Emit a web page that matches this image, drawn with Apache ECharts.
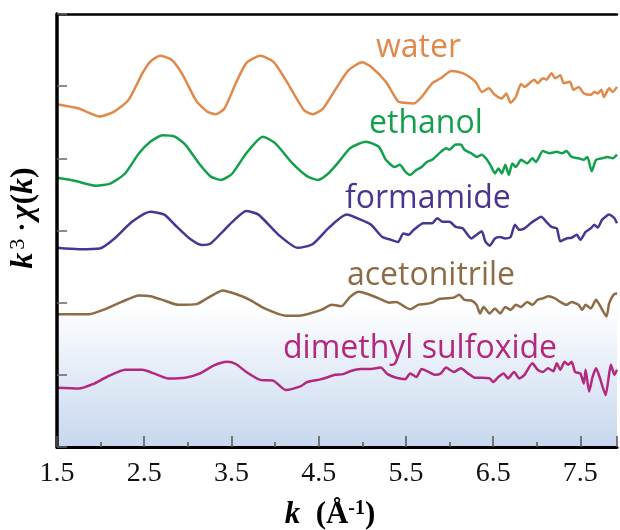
<!DOCTYPE html>
<html>
<head>
<meta charset="utf-8">
<script src="https://cdn.jsdelivr.net/npm/echarts@6/dist/echarts.min.js"></script>
<style>
  html, body { margin: 0; padding: 0; background: #fff; }
  #chart { width: 620px; height: 530px; }
</style>
</head>
<body>
<div id="chart"></div>
<script>
// x ticks (k, Å^-1)
const xTicks = [1.5, 2.5, 3.5, 4.5, 5.5, 6.5, 7.5];
const seriesNames = ['water', 'ethanol', 'formamide', 'acetonitrile', 'dimethyl sulfoxide'];

// k^3·chi(k) curves, vertically stacked (value in plot units, [k, y])
const water = [[1.5,4.75],[1.75,4.69],[1.99,4.58],[2.16,4.65],[2.32,4.81],[2.48,5.18],[2.57,5.34],[2.68,5.42],[2.81,5.37],[2.93,5.18],[3.10,4.79],[3.22,4.65],[3.32,4.61],[3.42,4.69],[3.55,5.04],[3.67,5.32],[3.83,5.42],[3.98,5.34],[4.12,5.09],[4.33,4.67],[4.43,4.61],[4.55,4.69],[4.69,4.95],[4.84,5.22],[5.00,5.33],[5.10,5.27],[5.27,5.06],[5.41,4.79],[5.49,4.77],[5.59,4.76],[5.68,4.85],[5.80,5.04],[5.90,5.11],[6.02,5.21],[6.15,5.18],[6.25,5.11],[6.31,5.04],[6.37,4.92],[6.45,4.97],[6.52,4.88],[6.60,4.83],[6.65,4.90],[6.70,4.77],[6.76,4.85],[6.82,5.03],[6.86,4.99],[6.97,5.09],[7.01,5.04],[7.07,5.11],[7.11,5.09],[7.17,5.18],[7.21,5.11],[7.27,5.15],[7.31,5.04],[7.38,5.06],[7.42,4.95],[7.48,4.99],[7.54,4.90],[7.62,4.88],[7.66,4.92],[7.70,4.90],[7.74,4.95],[7.77,4.85],[7.83,4.97],[7.87,4.92],[7.92,4.99]];

const ethanol = [[1.5,3.73],[1.70,3.69],[1.95,3.62],[2.11,3.65],[2.28,3.79],[2.44,4.07],[2.57,4.23],[2.71,4.32],[2.85,4.30],[2.97,4.19],[3.14,3.91],[3.26,3.75],[3.38,3.70],[3.51,3.79],[3.67,4.07],[3.86,4.30],[4.00,4.21],[4.20,3.93],[4.37,3.75],[4.49,3.70],[4.61,3.79],[4.73,3.95],[4.86,4.14],[5.04,4.23],[5.19,4.16],[5.27,3.98],[5.37,3.88],[5.43,3.91],[5.49,3.82],[5.55,3.77],[5.62,3.84],[5.68,3.88],[5.74,3.95],[5.80,3.98],[5.90,4.09],[5.96,4.14],[6.00,4.12],[6.07,4.19],[6.13,4.19],[6.17,4.12],[6.25,4.07],[6.31,4.02],[6.37,4.05],[6.43,3.98],[6.48,3.88],[6.52,3.79],[6.56,3.86],[6.60,3.79],[6.64,3.91],[6.68,3.77],[6.72,3.93],[6.76,3.88],[6.82,3.98],[6.89,3.93],[6.95,4.00],[6.99,3.95],[7.07,4.10],[7.15,4.07],[7.23,4.09],[7.29,4.07],[7.34,4.10],[7.40,4.02],[7.48,4.00],[7.54,3.98],[7.58,4.02],[7.63,3.82],[7.68,3.98],[7.75,4.00],[7.81,4.02],[7.87,4.00],[7.92,4.05]];

const formamide = [[1.5,2.76],[1.75,2.74],[1.99,2.75],[2.16,2.89],[2.36,3.12],[2.57,3.26],[2.73,3.22],[2.85,3.08],[3.02,2.89],[3.16,2.80],[3.26,2.82],[3.42,3.01],[3.51,3.12],[3.67,3.27],[3.81,3.22],[4.04,2.94],[4.26,2.76],[4.43,2.81],[4.61,3.03],[4.82,3.22],[4.98,3.15],[5.10,3.08],[5.23,2.91],[5.33,2.87],[5.41,2.84],[5.47,2.96],[5.53,2.94],[5.59,3.01],[5.70,3.10],[5.80,3.10],[5.86,3.17],[5.92,3.12],[6.00,3.12],[6.07,3.05],[6.15,3.03],[6.25,2.89],[6.31,2.94],[6.37,2.99],[6.41,2.85],[6.46,2.79],[6.52,2.89],[6.58,2.91],[6.64,2.89],[6.70,2.91],[6.75,3.08],[6.80,3.01],[6.86,3.03],[6.93,3.10],[6.99,3.15],[7.05,3.19],[7.11,3.12],[7.17,3.05],[7.23,3.03],[7.27,2.85],[7.34,2.89],[7.40,2.90],[7.46,2.94],[7.50,2.87],[7.56,2.98],[7.62,3.03],[7.66,3.08],[7.70,3.04],[7.75,3.15],[7.83,3.22],[7.89,3.17],[7.92,3.10]];

const acetonitrile = [[1.5,1.84],[1.87,1.84],[2.03,1.90],[2.24,2.01],[2.44,2.10],[2.57,2.09],[2.73,2.03],[2.89,1.97],[3.10,1.98],[3.22,2.06],[3.40,2.17],[3.55,2.12],[3.71,2.04],[3.88,1.92],[4.12,1.82],[4.28,1.82],[4.53,1.90],[4.65,1.97],[4.76,1.95],[4.86,2.08],[4.96,2.15],[5.06,2.12],[5.19,2.06],[5.31,2.00],[5.39,2.01],[5.49,1.94],[5.55,1.91],[5.64,1.97],[5.72,1.98],[5.80,2.00],[5.88,2.05],[5.96,2.06],[6.05,2.07],[6.11,2.11],[6.17,2.04],[6.25,2.03],[6.31,1.97],[6.35,1.85],[6.39,1.94],[6.46,1.85],[6.52,1.92],[6.58,1.85],[6.64,1.94],[6.70,1.90],[6.76,1.97],[6.82,1.94],[6.89,2.01],[6.95,1.97],[7.01,2.04],[7.07,2.06],[7.13,2.09],[7.21,2.06],[7.27,2.01],[7.34,1.97],[7.40,2.01],[7.48,1.97],[7.52,1.90],[7.56,1.97],[7.62,1.92],[7.68,2.04],[7.72,1.97],[7.80,1.81],[7.83,1.99],[7.88,2.11],[7.92,2.13]];

const dmso = [[1.5,0.82],[1.75,0.81],[1.91,0.87],[2.07,0.97],[2.28,1.07],[2.48,1.07],[2.61,1.02],[2.77,0.95],[2.97,0.96],[3.14,1.02],[3.30,1.13],[3.45,1.18],[3.55,1.15],[3.67,1.04],[3.83,0.93],[3.98,0.92],[4.12,0.79],[4.29,0.84],[4.37,0.90],[4.53,0.94],[4.69,1.00],[4.78,1.01],[4.86,1.05],[4.98,1.08],[5.10,1.08],[5.21,1.10],[5.29,1.01],[5.39,0.96],[5.49,0.94],[5.55,1.02],[5.62,0.97],[5.68,1.08],[5.76,1.04],[5.84,1.00],[5.90,1.02],[5.96,1.10],[6.05,1.04],[6.13,1.09],[6.21,1.02],[6.29,0.96],[6.37,0.96],[6.46,0.95],[6.50,0.90],[6.56,0.97],[6.62,1.02],[6.67,0.95],[6.74,1.04],[6.80,0.95],[6.86,1.00],[6.95,1.16],[7.01,1.07],[7.07,1.04],[7.13,1.09],[7.19,1.05],[7.23,1.16],[7.27,1.07],[7.32,1.18],[7.36,1.14],[7.40,1.18],[7.44,1.04],[7.50,1.02],[7.54,0.88],[7.56,1.07],[7.60,0.77],[7.64,0.97],[7.68,1.09],[7.72,0.97],[7.79,0.72],[7.85,1.14],[7.89,1.00],[7.92,1.07]];

const allData = [water, ethanol, formamide, acetonitrile, dmso];
const colors = ['#e0894a', '#12a04c', '#4a3592', '#8c6b45', '#b3287e'];
const labelPos = [[376, 48], [369, 124], [345, 199], [347, 276], [283, 349]];

const X_MIN = 1.5, X_MAX = 7.92;
const chart = echarts.init(document.getElementById('chart'), null, { renderer: 'canvas' });

const series = allData.map((d, i) => ({
  name: seriesNames[i],
  type: 'line',
  data: d,
  showSymbol: false,
  smooth: 0.2,
  lineStyle: { color: colors[i], width: 2.5 },
  z: 3,
  animation: false
}));
series[4].markArea = {
  silent: true,
  z: 1,
  itemStyle: {
    color: { type: 'linear', x: 0, y: 0, x2: 0, y2: 1,
      colorStops: [{ offset: 0, color: '#ffffff' }, { offset: 1, color: '#c6d7ee' }] }
  },
  data: [[{ xAxis: X_MIN, yAxis: 1.95 }, { xAxis: X_MAX, yAxis: 0 }]]
};

const serif = 'Liberation Serif';
chart.setOption({
  animation: false,
  grid: { left: 57, right: 0, top: 14, bottom: 83 },
  xAxis: [{
    type: 'value', min: X_MIN, max: X_MAX, interval: 1, position: 'bottom', z: 10,
    axisLine: { lineStyle: { color: '#000', width: 3 } },
    axisTick: { inside: true, length: 11, lineStyle: { color: '#555', width: 1.5 } },
    minorTick: { show: true, splitNumber: 2, length: 5, lineStyle: { color: '#555', width: 1.5 } },
    splitLine: { show: false },
    axisLabel: {
      fontFamily: serif, fontSize: 28, color: '#111', margin: 13,
      formatter: v => xTicks.some(t => Math.abs(t - v) < 1e-6) ? v.toFixed(1) : ''
    }
  }, {
    type: 'value', min: X_MIN, max: X_MAX, position: 'top', z: 10,
    axisLine: { show: true, lineStyle: { color: '#000', width: 2.5 } },
    axisTick: { show: false }, axisLabel: { show: false }, splitLine: { show: false }
  }],
  yAxis: {
    type: 'value', min: 0, max: 6, interval: 1, z: 10,
    axisLine: { show: true, lineStyle: { color: '#000', width: 3.5 } },
    axisTick: { show: true, inside: true, length: 10, lineStyle: { color: '#666', width: 1.5 } },
    axisLabel: { show: false },
    splitLine: { show: false }
  },
  series: series,
  graphic: [
    ...seriesNames.map((n, i) => ({
      type: 'text', x: labelPos[i][0], y: labelPos[i][1], z: 20,
      style: { text: n, fill: colors[i], font: '32px "Open Sans"', align: 'left', verticalAlign: 'middle' }
    })),
    {
      type: 'text', x: 24, y: 218, rotation: Math.PI / 2, z: 20,
      style: {
        text: '{i|k}{s|3}{n|·}{i|χ}{b|(}{i|k}{b|)}',
        align: 'center', verticalAlign: 'middle',
        rich: {
          i: { fontFamily: serif, fontStyle: 'italic', fontWeight: 'bold', fontSize: 32, fill: '#000', lineHeight: 34 },
          b: { fontFamily: serif, fontWeight: 'bold', fontSize: 32, fill: '#000', lineHeight: 34 },
          s: { fontFamily: serif, fontSize: 22, fill: '#000', verticalAlign: 'top', lineHeight: 34, padding: [0, 4, 0, 3] },
          n: { fontFamily: serif, fontWeight: 'bold', fontSize: 28, fill: '#000', lineHeight: 34, padding: [0, 3, 0, 3] }
        }
      }
    },
    {
      type: 'text', x: 330, y: 515, z: 20,
      style: {
        text: '{i|k}{b|  (Å}{s|-1}{b|)}',
        align: 'center', verticalAlign: 'middle',
        rich: {
          i: { fontFamily: serif, fontStyle: 'italic', fontWeight: 'bold', fontSize: 31, fill: '#000', lineHeight: 32 },
          b: { fontFamily: serif, fontWeight: 'bold', fontSize: 31, fill: '#000', lineHeight: 32 },
          s: { fontFamily: serif, fontWeight: 'bold', fontSize: 20, fill: '#000', verticalAlign: 'top', lineHeight: 32 }
        }
      }
    }
  ]
});
</script>
</body>
</html>
